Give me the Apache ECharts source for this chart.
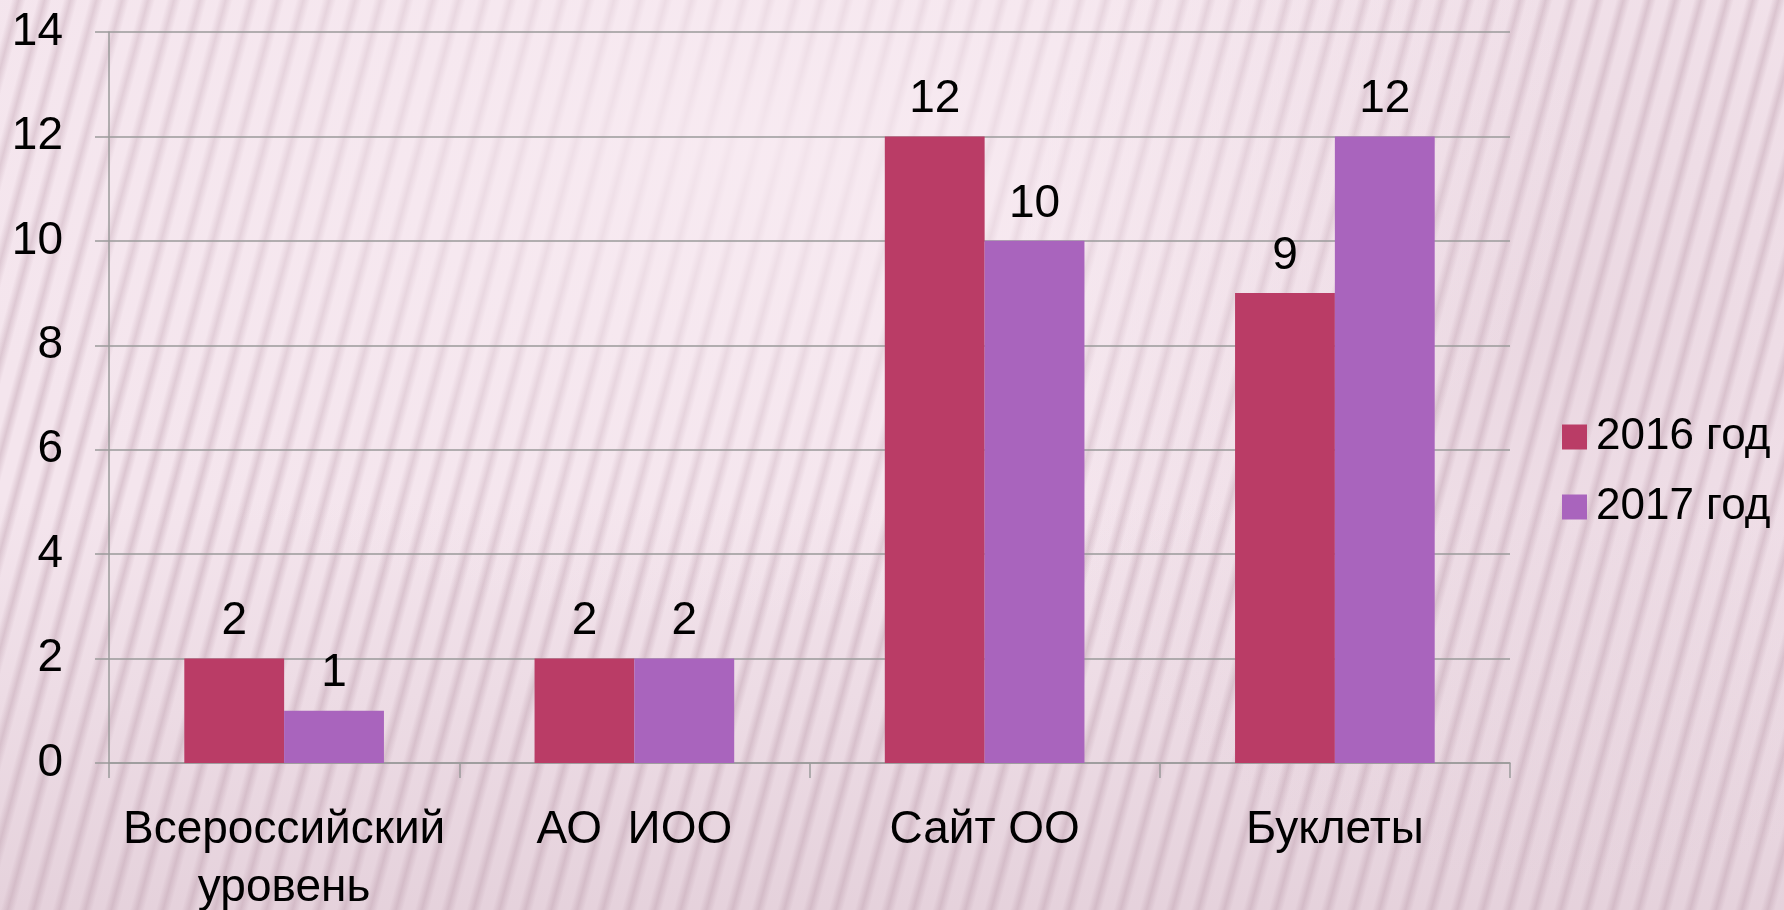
<!DOCTYPE html>
<html lang="ru">
<head>
    <meta charset="utf-8" />
    <title>2016 / 2017</title>
    <style>
      html, body {
        margin: 0;
        padding: 0;
        width: 1784px;
        height: 910px;
        overflow: hidden;
      }
      body {
        background-color: #f1dfe8;
        background-image:
          radial-gradient(ellipse 850px 480px at 42% 16%, rgba(248,235,242,0.85), rgba(248,235,242,0) 100%),
          radial-gradient(circle 560px at 1560px 330px, rgba(200,170,185,0.22), rgba(200,170,185,0) 100%),
          linear-gradient(180deg, rgba(0,0,0,0) 55%, rgba(190,160,175,0.28) 100%),
          repeating-linear-gradient(105deg, #f4e5ed 0px, #f4e5ed 11px, #dcc6d1 18px, #f4e5ed 25px);
      }
      #main {
        width: 1784px;
        height: 910px;
      }
    </style>
</head>
<body>
    <div id="main"></div>
    <script src="https://cdn.jsdelivr.net/npm/echarts@6/dist/echarts.min.js"></script>
    <script>
    // данные
    var categories = ["Всероссийский\nуровень", "АО  ИОО", "Сайт ОО", "Буклеты"];
    var seriesNames = ["2016 год", "2017 год"];
    var values2016 = [2, 2, 12, 9];
    var values2017 = [1, 2, 10, 12];
    var colors = ["#ba3c66", "#a964bd"];

    var font = "'Liberation Sans', Arial, sans-serif";

    function barSeries(name, data, color) {
      return {
        name: name,
        type: "bar",
        data: data,
        barGap: 0,
        barCategoryGap: "43%",
        itemStyle: { color: color },
        label: {
          show: true,
          position: "top",
          distance: 14,
          color: "#000",
          fontSize: 46,
          fontFamily: font
        }
      };
    }

    var myChart = echarts.init(document.getElementById("main"), null, { renderer: "canvas" });
    var option = {
        animation: false,
        backgroundColor: "transparent",
        grid: {
            left: 109,
            right: 274,
            top: 32,
            bottom: 147,
            containLabel: false,
            outerBoundsMode: "none"
        },
        legend: {
            orient: "vertical",
            left: 1557,
            top: 410,
            itemWidth: 25,
            itemHeight: 25,
            itemGap: 26,
            icon: "rect",
            data: seriesNames,
            textStyle: {
                color: "#000",
                fontSize: 44,
                lineHeight: 44,
                fontFamily: font,
                padding: [0, 0, 0, 4]
            }
        },
        xAxis: {
            type: "category",
            data: categories,
            axisLine: { show: true, lineStyle: { color: "#9a9a9a", width: 1.5 } },
            axisTick: { show: true, length: 15, lineStyle: { color: "#9a9a9a", width: 1.5 } },
            axisLabel: {
                interval: 0,
                margin: 38,
                color: "#000",
                fontSize: 46,
                lineHeight: 58,
                fontFamily: font
            }
        },
        yAxis: {
            type: "value",
            min: 0,
            max: 14,
            interval: 2,
            axisLine: { show: true, lineStyle: { color: "#9a9a9a", width: 1.5 } },
            axisTick: { show: true, length: 14, lineStyle: { color: "#9a9a9a", width: 1.5 } },
            splitLine: { show: true, lineStyle: { color: "#9a9a9a", width: 1.5 } },
            axisLabel: {
                margin: 46,
                color: "#000",
                fontSize: 46,
                fontFamily: font
            }
        },
        series: [
            barSeries(seriesNames[0], values2016, colors[0]),
            barSeries(seriesNames[1], values2017, colors[1])
        ]
    };
    myChart.setOption(option);
    </script>
</body>
</html>
